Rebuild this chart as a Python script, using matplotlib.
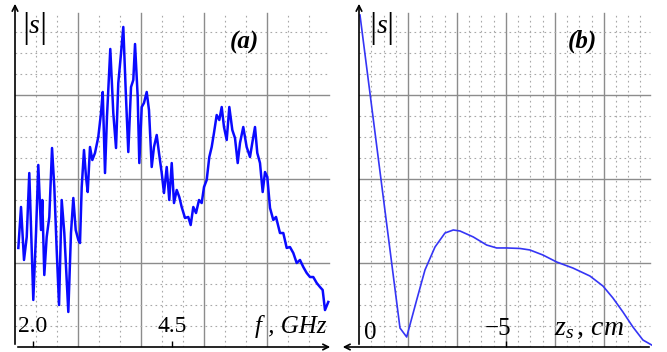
import matplotlib
matplotlib.use("Agg")
import matplotlib.pyplot as plt

# ── spectrum |s|(f), panel (a) ──────────────────────────────────────────────
freq_ghz = [1.736, 1.784, 1.838, 1.887, 1.933, 1.977, 2.005, 2.054, 2.095, 2.144,
            2.167, 2.203, 2.246, 2.293, 2.342, 2.383, 2.426, 2.468, 2.516, 2.563,
            2.635, 2.683, 2.725, 2.768, 2.815, 2.845, 2.876, 2.917, 2.953, 2.984,
            3.025, 3.067, 3.115, 3.174, 3.223, 3.254, 3.295, 3.331, 3.390, 3.444,
            3.493, 3.534, 3.577, 3.624, 3.667, 3.714, 3.763, 3.804, 3.835, 3.883,
            3.912, 3.955, 3.996, 4.045, 4.086, 4.135, 4.176, 4.225, 4.266, 4.315,
            4.356, 4.405, 4.451, 4.495, 4.536, 4.585, 4.631, 4.674, 4.734, 4.793,
            4.836, 4.883, 4.932, 4.986, 5.034, 5.076, 5.124, 5.171, 5.214, 5.255,
            5.304, 5.351, 5.394, 5.435, 5.484, 5.531, 5.585, 5.633, 5.682, 5.723,
            5.782, 5.843, 5.903, 5.944, 5.993, 6.034, 6.083, 6.131, 6.173, 6.214,
            6.263, 6.322, 6.371, 6.442, 6.502, 6.563, 6.622, 6.682, 6.743, 6.802,
            6.862, 6.923, 6.982, 7.041, 7.103, 7.162, 7.210, 7.252, 7.311]
s_spec = [1.179, 1.667, 1.036, 1.310, 2.071, 1.155, 0.560, 1.357, 2.167, 1.393,
          1.750, 0.857, 1.310, 1.548, 2.369, 1.905, 1.155, 0.500, 1.750, 1.357,
          0.417, 1.357, 1.774, 1.393, 1.274, 1.238, 1.905, 2.345, 2.024, 1.845,
          2.381, 2.226, 2.310, 2.500, 2.786, 3.036, 2.071, 2.750, 3.548, 2.786,
          2.369, 3.143, 3.452, 3.810, 3.060, 2.321, 3.095, 3.179, 3.607, 2.976,
          2.190, 2.857, 2.905, 3.036, 2.821, 2.143, 2.381, 2.524, 2.310, 2.071,
          1.833, 2.143, 1.750, 2.190, 1.714, 1.869, 1.786, 1.667, 1.536, 1.548,
          1.452, 1.667, 1.595, 1.750, 1.714, 1.905, 1.988, 2.262, 2.381, 2.548,
          2.762, 2.702, 2.857, 2.619, 2.464, 2.857, 2.583, 2.488, 2.190, 2.429,
          2.619, 2.381, 2.262, 2.429, 2.619, 2.310, 2.190, 1.845, 2.083, 2.024,
          1.655, 1.512, 1.548, 1.357, 1.357, 1.179, 1.190, 1.119, 1.000, 1.036,
          0.952, 0.881, 0.833, 0.833, 0.762, 0.714, 0.679, 0.440, 0.536]

# ── |s|(z_s), panel (b) ─────────────────────────────────────────────────────
z_cm = [0.368, -1.103, -1.349, -1.717, -2.022, -2.390, -2.757, -3.063, -3.309,
        -3.798, -4.290, -4.658, -5.026, -5.515, -5.882, -6.360, -6.864, -7.463,
        -8.088, -8.566, -8.934, -9.301, -9.669, -10.037, -10.357]
s_z = [3.952, 0.226, 0.119, 0.560, 0.917, 1.190, 1.357, 1.393, 1.381,
       1.310, 1.214, 1.179, 1.179, 1.173, 1.155, 1.095, 1.012, 0.940,
       0.845, 0.726, 0.583, 0.417, 0.238, 0.083, 0.024]

W, H = 667, 352
SERIF = "Liberation Serif"
MAJ = "#8c8c8c"
MIN = "#a8a8a8"
plt.rcParams.update({"mathtext.fontset": "custom",
                     "mathtext.it": "Liberation Serif:italic",
                     "mathtext.rm": "Liberation Serif"})

fig = plt.figure(figsize=(W / 100, H / 100), dpi=100)


def px_axes(x0, x1, y_top, y_bot):
    return fig.add_axes([x0 / W, (H - y_bot) / H, (x1 - x0) / W, (y_bot - y_top) / H])


def grid(ax, vmaj, vmin, hmaj, hmin, ytop, xright):
    for v in vmin:
        ax.plot([v, v], [0, ytop], color=MIN, lw=0.8, ls=(0, (1.5, 3)), zorder=1)
    for v in vmaj:
        ax.plot([v, v], [0, ytop], color=MAJ, lw=1.0, zorder=1)
    x0 = ax.get_xlim()[0]
    for h in hmin:
        ax.plot([x0, xright], [h, h], color=MIN, lw=0.8, ls=(0, (1.5, 3)), zorder=1)
    for h in hmaj:
        ax.plot([x0, xright], [h, h], color=MAJ, lw=1.0, zorder=1)


def style(ax):
    for sp in ax.spines.values():
        sp.set_visible(False)
    ax.set_yticks([])
    ax.tick_params(axis="x", direction="in", length=4, width=1, labelbottom=False)


def abs_s(ax, x_left, x_right, y):
    ax.text(x_left, y, "|", fontsize=26, family=SERIF, ha="center", va="center")
    ax.text(x_right, y, "|", fontsize=26, family=SERIF, ha="center", va="center")
    ax.text((x_left + x_right) / 2, y + 0.03, "s", fontsize=20, family=SERIF, style="italic",
            ha="center", va="center")


def arrows(ax, x_from, x_to):
    ax.annotate("", xy=(0, 1.0), xytext=(0, 0), xycoords="axes fraction",
                arrowprops=dict(arrowstyle="->", lw=1.2, color="black"), annotation_clip=False)
    ax.annotate("", xy=(x_to, 0), xytext=(x_from, 0), xycoords="axes fraction",
                arrowprops=dict(arrowstyle="->", lw=1.2, color="black"), annotation_clip=False)


YTOP = 346 / 84
hmaj = [1, 2, 3]
hmin = [k * 0.25 for k in range(1, 16) if k % 4]

# panel (a)
ax = px_axes(15, 333, 1, 347)
ax.set_xlim(1.676, 7.396)
ax.set_ylim(0, YTOP)
style(ax)
step = 1.133
vmaj = [2.809 + step * k for k in range(4)]
vmin = [2.809 + step / 3 * j for j in range(-2, 13) if j % 3 and 2.809 + step / 3 * j < 7.33]
grid(ax, vmaj, vmin, hmaj, hmin, 3.98, 7.33)
ax.plot(freq_ghz, s_spec, color="#0a0aff", lw=1.8, zorder=3)
ax.set_xticks([2.0, 4.5])
ax.text(2.0, 0.24, "2.0", fontsize=17, family=SERIF, ha="center", va="center")
ax.text(4.5, 0.24, "4.5", fontsize=17, family=SERIF, ha="center", va="center")
ax.text(6.64, 0.24, "f , GHz", fontsize=18, family=SERIF, style="italic", ha="center", va="center")
ax.text(5.81, 3.62, "(a)", fontsize=18, family=SERIF, style="italic", weight="bold",
        ha="center", va="center")
abs_s(ax, 1.869, 2.174, 3.79)
arrows(ax, 0, 1.0)

# panel (b)
ax = px_axes(359, 652, 1, 347)
ax.set_xlim(0.404, -10.37)
ax.set_ylim(0, YTOP)
style(ax)
stepb = 1.8
vmaj = [-1.397 - stepb * k for k in range(5)]
vmin = [-1.397 - stepb / 4 * j for j in range(-3, 20) if j % 4]
grid(ax, vmaj, vmin, hmaj, hmin, 3.98, -10.29)
ax.plot(z_cm, s_z, color="#3535f5", lw=1.2, zorder=3)
ax.set_xticks([-5])
ax.text(0.0, 0.17, "0", fontsize=18, family=SERIF, ha="center", va="center")
ax.text(-4.72, 0.22, "\u22125", fontsize=18, family=SERIF, ha="center", va="center")
ax.text(-8.05, 0.24, r"$z_s\,,\,cm$", fontsize=20, ha="center", va="center")
ax.text(-7.8, 3.64, "(b)", fontsize=18, family=SERIF, style="italic", weight="bold",
        ha="center", va="center")
abs_s(ax, -0.11, -0.74, 3.79)
arrows(ax, 1.0, -0.065)

fig.savefig("out.png", dpi=100, facecolor="white")
